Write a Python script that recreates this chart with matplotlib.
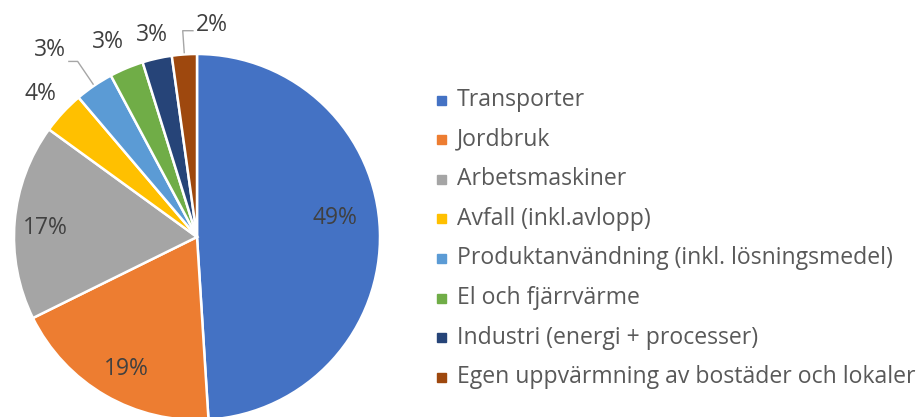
import numpy as np
import matplotlib.pyplot as plt
from matplotlib.patches import Rectangle

# data
categories = [
    'Transporter',
    'Jordbruk',
    'Arbetsmaskiner',
    'Avfall (inkl.avlopp)',
    'Produktanvändning (inkl. lösningsmedel)',
    'El och fjärrvärme',
    'Industri (energi + processer)',
    'Egen uppvärmning av bostäder och lokaler',
]
shares = [49.0, 18.7, 17.3, 3.8, 3.4, 3.0, 2.6, 2.2]
colors = ['#4472C4', '#ED7D31', '#A5A5A5', '#FFC000',
          '#5B9BD5', '#70AD47', '#264478', '#9E480E']

# label layout (radius as fraction of pie radius, angle shift in degrees)
label_r = [0.76, 0.82, 0.83, 1.16, 1.30, 1.17, 1.13, 1.16]
label_shift = [6, 2, 1.5, 0.5, 4, 2, 0, -8]
leader = [False, False, False, False, True, False, False, True]
elbow_r = [0, 0, 0, 0, 1.16, 0, 0, 1.13]

plt.rcParams['font.family'] = ['Open Sans', 'DejaVu Sans']
W, H = 922, 417
fig = plt.figure(figsize=(W / 100, H / 100), dpi=100)
ax = fig.add_axes([0, 0, 1, 1])

cx, cy, R = 197, 180, 183
wedges, _ = ax.pie(shares, colors=colors, startangle=90, counterclock=False,
                   center=(cx, cy), radius=R, frame=True,
                   wedgeprops=dict(edgecolor='white', linewidth=1.8))
ax.set_xlim(0, W)
ax.set_ylim(0, H)
ax.set_aspect('equal')
ax.axis('off')

txt_col = '#404040'
for i, w in enumerate(wedges):
    mid = (w.theta1 + w.theta2) / 2
    a = np.deg2rad(mid + label_shift[i])
    tx = cx + label_r[i] * R * np.cos(a)
    ty = cy + label_r[i] * R * np.sin(a)
    ax.text(tx, ty, f'{shares[i]:.0f}%', ha='center', va='center',
            fontsize=16.5, color=txt_col)
    if leader[i]:
        m = np.deg2rad(mid)
        x0, y0 = cx + 1.01 * R * np.cos(m), cy + 1.01 * R * np.sin(m)
        x1 = cx + elbow_r[i] * R * np.cos(m)
        y1 = cy + elbow_r[i] * R * np.sin(m)
        x2 = tx + 19 if tx < x1 else tx - 19
        ax.plot([x0, x1, x2], [y0, y1, y1], color='#A6A6A6', lw=1)

# legend drawn by hand
lx, ly, dy = 437, H - 100, 39.6
for i, (cat, col) in enumerate(zip(categories, colors)):
    y = ly - i * dy
    ax.add_patch(Rectangle((lx, y - 4.5), 9, 9, color=col))
    ax.text(lx + 20, y, cat, ha='left', va='center', fontsize=16.6,
            color='#595959')

fig.savefig('out.png', dpi=100)
